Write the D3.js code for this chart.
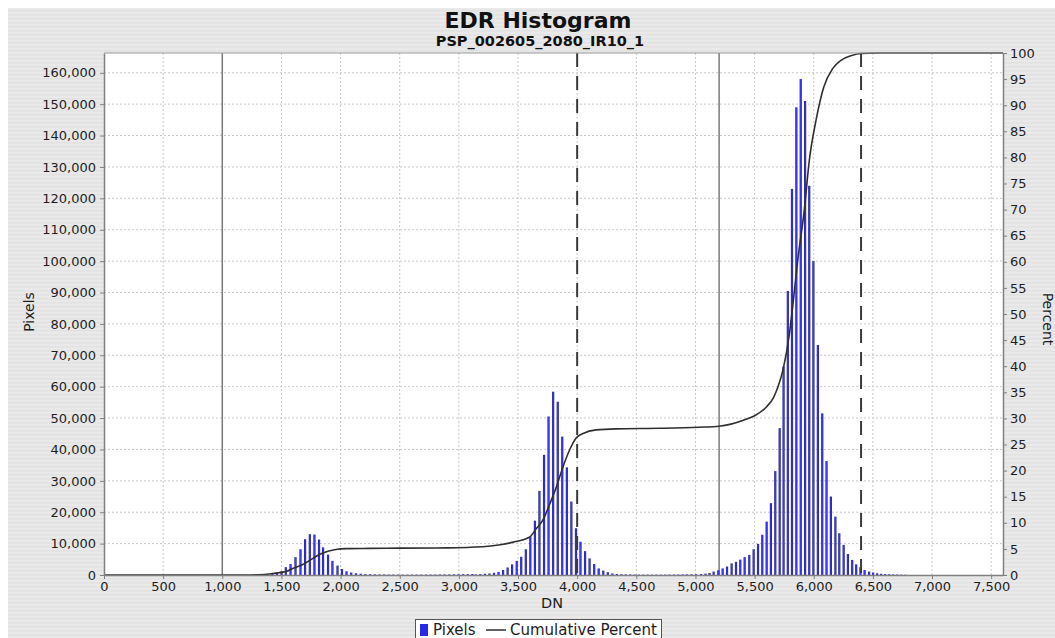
<!DOCTYPE html>
<html>
<head>
<meta charset="utf-8">
<script src="https://cdn.jsdelivr.net/npm/d3@7"></script>
<style>
  body { margin: 0; background: #fff; }
  svg { display: block; font-family: "DejaVu Sans", sans-serif; }
</style>
</head>
<body>
<div class="container"></div>
<script>
// histogram bars (DN of each populated bin, pixel count)
let lowDN = [1345, 1384, 1423, 1462, 1501, 1537, 1577, 1619, 1661, 1700, 1740, 1779, 1818, 1852, 1894, 1931, 1974, 2012, 2050, 2090, 2130, 2170, 2210];
let lowPixels = [150, 250, 450, 700, 1200, 2500, 3500, 5700, 8200, 11400, 13000, 12900, 11300, 8800, 6500, 4500, 3000, 1900, 1200, 800, 550, 400, 300];

let gapADN = [2250, 2289, 2328, 2368, 2407, 2446, 2486, 2525, 2564, 2604, 2643, 2682, 2722, 2761, 2800, 2840, 2879, 2918, 2958, 2997, 3036, 3075, 3114];
let gapAPixels = [260, 220, 190, 170, 150, 140, 130, 130, 120, 120, 130, 130, 140, 140, 150, 160, 170, 180, 200, 220, 240, 280, 320];

let midDN = [3143, 3181, 3220, 3258, 3297, 3335, 3374, 3412, 3450, 3489, 3527, 3566, 3604, 3643, 3681, 3720, 3758, 3797, 3836, 3874, 3913, 3951, 3990, 4028, 4067, 4105, 4144, 4182, 4221, 4259, 4298, 4336];
let midPixels = [200, 300, 400, 500, 700, 1000, 1600, 2400, 3400, 4500, 5800, 8200, 12200, 17300, 26800, 38300, 50500, 58400, 55200, 44100, 34300, 23400, 14900, 10600, 7600, 5300, 3500, 2100, 1400, 900, 500, 300];

let gapBDN = [4374, 4411, 4448, 4485, 4522, 4559, 4596, 4633, 4670, 4707, 4744, 4781, 4818, 4855, 4892, 4929, 4966, 5005];
let gapBPixels = [250, 200, 170, 150, 140, 130, 120, 120, 120, 130, 130, 140, 150, 160, 180, 200, 220, 250];

let highDN = [5047, 5085, 5119, 5154, 5193, 5230, 5267, 5306, 5343, 5379, 5416, 5455, 5492, 5529, 5565, 5602, 5638, 5675, 5712, 5745, 5781, 5816, 5853, 5890, 5927, 5962, 5997, 6035, 6072, 6108, 6145, 6183, 6216, 6253, 6289, 6325, 6359, 6395, 6430, 6468, 6502, 6536, 6570, 6604, 6638, 6672, 6706, 6740, 6774];
let highPixels = [300, 450, 650, 1100, 1500, 2100, 2700, 3700, 4200, 4900, 5700, 6400, 8200, 9900, 12800, 17000, 22900, 33100, 46800, 66400, 90500, 123000, 149000, 158000, 151000, 124000, 100000, 73300, 51500, 36300, 25000, 18600, 13300, 9600, 6700, 4800, 3400, 2500, 1600, 1100, 800, 550, 400, 300, 250, 200, 150, 120, 100];

// cumulative percent curve
let cumDN = [0, 1200, 1300, 1400, 1500, 1545, 1600, 1680, 1740, 1795, 1850, 1900, 1960, 2050, 2250, 2500, 2900, 3200, 3350, 3480, 3600, 3655, 3710, 3770, 3825, 3880, 3935, 3990, 4050, 4160, 4330, 4700, 5030, 5200, 5300, 5400, 5500, 5600, 5660, 5700, 5740, 5795, 5820, 5865, 5920, 5963, 6020, 6085, 6160, 6230, 6320, 6400, 6550, 7600];
let cumPercent = [0, 0, 0.05, 0.2, 0.5, 0.7, 1.3, 2.0, 2.8, 3.6, 4.2, 4.6, 4.9, 5.05, 5.1, 5.15, 5.2, 5.4, 5.8, 6.4, 7.3, 8.9, 10.5, 13.7, 16.9, 20.7, 23.9, 26.2, 27.1, 27.8, 28.0, 28.1, 28.3, 28.5, 28.9, 29.6, 30.5, 32.2, 34, 36.2, 39.3, 46.3, 51, 60.3, 69.9, 79.5, 87.2, 93.5, 97.0, 98.6, 99.5, 99.9, 100, 100];

let solidMarkers = [1000, 5200];
let dashedMarkers = [4000, 6400];

let dnTicks = [0, 500, 1000, 1500, 2000, 2500, 3000, 3500, 4000, 4500, 5000, 5500, 6000, 6500, 7000, 7500];
let pixelTicks = [0, 10000, 20000, 30000, 40000, 50000, 60000, 70000, 80000, 90000, 100000, 110000, 120000, 130000, 140000, 150000, 160000];
let percentTicks = [0, 5, 10, 15, 20, 25, 30, 35, 40, 45, 50, 55, 60, 65, 70, 75, 80, 85, 90, 95, 100];

let W = 1055, H = 638;
let plot = { left: 104, right: 1003, top: 53, bottom: 575 };

var svg = d3.select(".container")
  .append("svg")
  .attr("width", W)
  .attr("height", H);

let defs = svg.append("defs");
let stripes = defs.append("pattern")
  .attr("id", "stripes")
  .attr("patternUnits", "userSpaceOnUse")
  .attr("width", 8)
  .attr("height", 4);
stripes.append("rect").attr("width", 8).attr("height", 4).attr("fill", "#e9e9e9");
stripes.append("rect").attr("y", 2).attr("width", 8).attr("height", 1.5).attr("fill", "#e2e2e2");

let grad = defs.append("linearGradient").attr("id", "barGrad").attr("x1", 0).attr("x2", 1).attr("y1", 0).attr("y2", 0);
grad.append("stop").attr("offset", "0%").attr("stop-color", "#1c1c90");
grad.append("stop").attr("offset", "50%").attr("stop-color", "#3a3aff");
grad.append("stop").attr("offset", "100%").attr("stop-color", "#1c1c90");

// chart background
svg.append("rect").attr("x", 8).attr("y", 8).attr("width", W - 8).attr("height", H - 8).attr("fill", "url(#stripes)");

let x = d3.scaleLinear().domain([0, 7600]).range([plot.left, plot.right]);
let y = d3.scaleLinear().domain([0, 166300]).range([plot.bottom, plot.top]);
let yp = d3.scaleLinear().domain([0, 100]).range([plot.bottom, plot.top]);

svg.append("rect")
  .attr("x", plot.left).attr("y", plot.top)
  .attr("width", plot.right - plot.left).attr("height", plot.bottom - plot.top)
  .attr("fill", "#fff");

// dotted grid
svg.append("g").selectAll("line").data(dnTicks.filter((d) => d > 0)).enter().append("line")
  .attr("x1", (d) => x(d)).attr("x2", (d) => x(d))
  .attr("y1", plot.top).attr("y2", plot.bottom)
  .attr("stroke", "#c8c8c8").attr("stroke-dasharray", "2,2");
svg.append("g").selectAll("line").data(pixelTicks.filter((d) => d > 0)).enter().append("line")
  .attr("x1", plot.left).attr("x2", plot.right)
  .attr("y1", (d) => y(d)).attr("y2", (d) => y(d))
  .attr("stroke", "#c8c8c8").attr("stroke-dasharray", "2,2");

// solid markers
svg.append("g").selectAll("line").data(solidMarkers).enter().append("line")
  .attr("x1", (d) => x(d)).attr("x2", (d) => x(d))
  .attr("y1", plot.top).attr("y2", plot.bottom)
  .attr("stroke", "#7a7a7a").attr("stroke-width", 1.5);

// bars
let bars = [];
[[lowDN, lowPixels], [gapADN, gapAPixels], [midDN, midPixels], [gapBDN, gapBPixels], [highDN, highPixels]].forEach((pair) => {
  pair[0].forEach((dn, i) => bars.push({ dn: dn, px: pair[1][i] }));
});

svg.append("g").selectAll("rect").data(bars).enter().append("rect")
  .attr("x", (d) => x(d.dn) - 1.1)
  .attr("width", 2.2)
  .attr("y", (d) => y(d.px))
  .attr("height", (d) => plot.bottom - y(d.px))
  .attr("fill", "url(#barGrad)");

// dashed markers
svg.append("g").selectAll("line").data(dashedMarkers).enter().append("line")
  .attr("x1", (d) => x(d)).attr("x2", (d) => x(d))
  .attr("y1", plot.top).attr("y2", plot.bottom)
  .attr("stroke", "#3a3a3a").attr("stroke-width", 2)
  .attr("stroke-dasharray", "14,9");

// cumulative curve
let cum = cumDN.map((d, i) => [d, cumPercent[i]]);
svg.append("path")
  .datum(cum)
  .attr("fill", "none")
  .attr("stroke", "#2f2f2f")
  .attr("stroke-width", 1.6)
  .attr("d", d3.line().x((d) => x(d[0])).y((d) => yp(d[1])).curve(d3.curveMonotoneX));

// plot border top
svg.append("line").attr("x1", plot.left).attr("x2", plot.right).attr("y1", plot.top).attr("y2", plot.top)
  .attr("stroke", "#9a9a9a");

// axes
let styleAxis = (g) => {
  g.select(".domain").attr("stroke", "#808080").attr("stroke-width", 1.5);
  g.selectAll(".tick line").attr("stroke", "#808080");
  g.selectAll(".tick text").attr("fill", "#1e1e1e").style("font-size", "13px").style("font-family", "DejaVu Sans, sans-serif");
};

svg.append("g")
  .attr("transform", "translate(0," + plot.bottom + ")")
  .call(d3.axisBottom(x).tickValues(dnTicks).tickFormat(d3.format(",")).tickSize(4).tickSizeOuter(0).tickPadding(3))
  .call(styleAxis);

svg.append("g")
  .attr("transform", "translate(" + plot.left + ",0)")
  .call(d3.axisLeft(y).tickValues(pixelTicks).tickFormat(d3.format(",")).tickSize(4).tickSizeOuter(0).tickPadding(4))
  .call(styleAxis);

svg.append("g")
  .attr("transform", "translate(" + plot.right + ",0)")
  .call(d3.axisRight(yp).tickValues(percentTicks).tickSize(4).tickSizeOuter(0).tickPadding(3))
  .call(styleAxis);

// titles
svg.append("text").attr("x", 538).attr("y", 28).attr("text-anchor", "middle")
  .style("font-size", "22px").style("font-weight", "bold").attr("fill", "#111").text("EDR Histogram");
svg.append("text").attr("x", 540).attr("y", 46).attr("text-anchor", "middle")
  .style("font-size", "14.5px").style("font-weight", "bold").attr("fill", "#111").text("PSP_002605_2080_IR10_1");

svg.append("text").attr("x", 552).attr("y", 608).attr("text-anchor", "middle")
  .style("font-size", "14.5px").attr("fill", "#1e1e1e").text("DN");
svg.append("text").attr("transform", "translate(34,312) rotate(-90)").attr("text-anchor", "middle")
  .style("font-size", "14px").attr("fill", "#1e1e1e").text("Pixels");
svg.append("text").attr("transform", "translate(1043,319) rotate(90)").attr("text-anchor", "middle")
  .style("font-size", "14px").attr("fill", "#1e1e1e").text("Percent");

// legend
let legend = svg.append("g");
legend.append("rect").attr("x", 415.5).attr("y", 619.5).attr("width", 246).attr("height", 24)
  .attr("fill", "#fff").attr("stroke", "#555");
legend.append("rect").attr("x", 420).attr("y", 624).attr("width", 8).attr("height", 12).attr("fill", "#2828e6");
legend.append("text").attr("x", 433).attr("y", 635).style("font-size", "15px").attr("fill", "#1e1e1e").text("Pixels");
legend.append("line").attr("x1", 486).attr("x2", 506).attr("y1", 630).attr("y2", 630).attr("stroke", "#2f2f2f").attr("stroke-width", 1.5);
legend.append("text").attr("x", 510).attr("y", 635).style("font-size", "15px").attr("fill", "#1e1e1e").text("Cumulative Percent");
</script>
</body>
</html>
